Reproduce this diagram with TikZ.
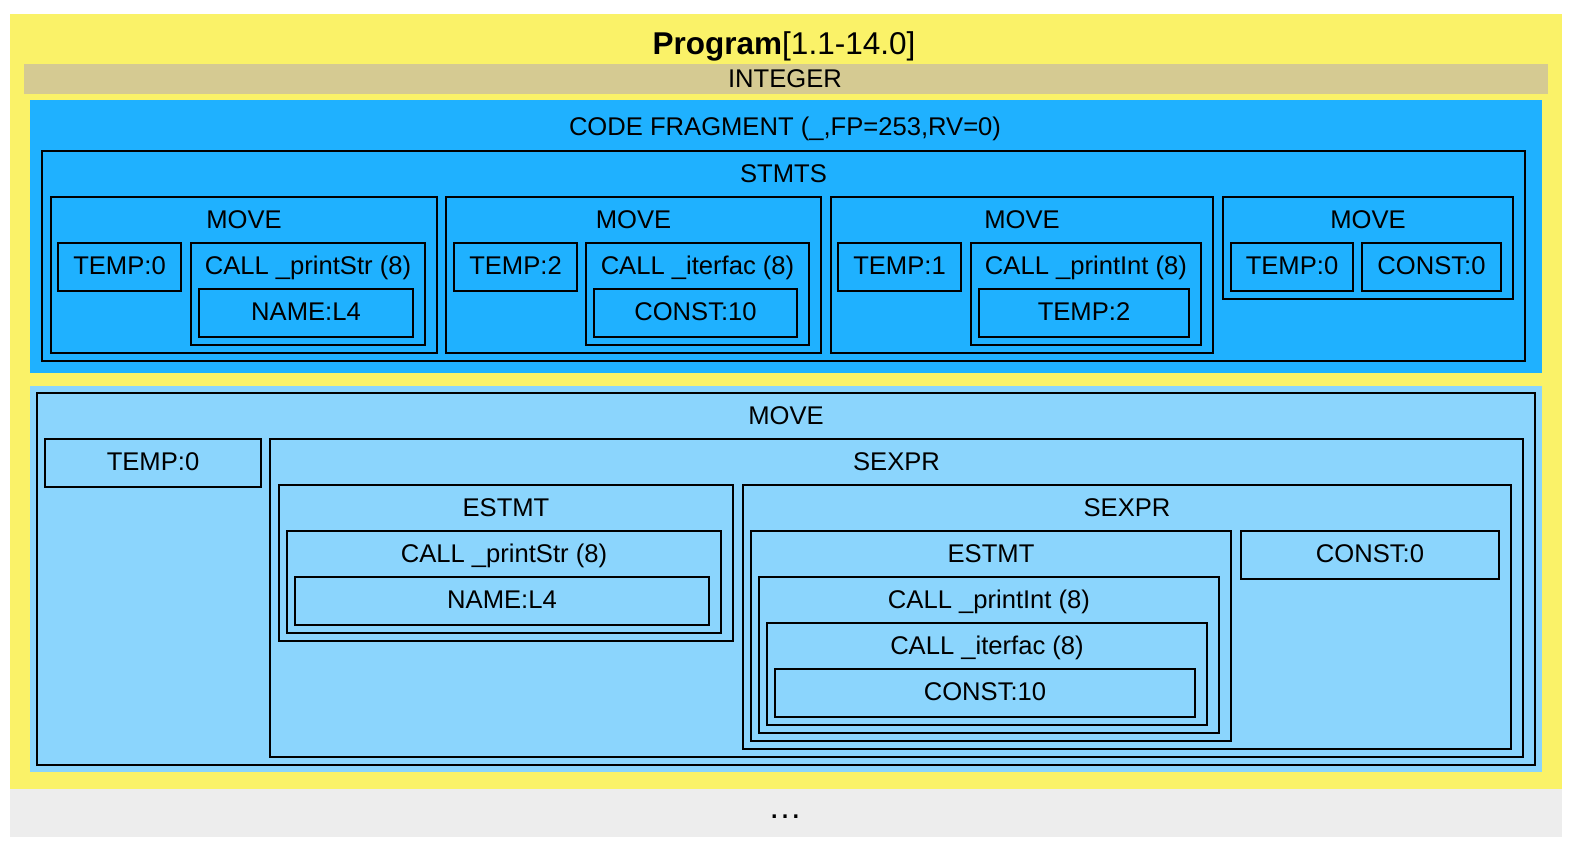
\documentclass[tikz,border=0pt]{standalone}
\usepackage{fontspec}
\setmainfont{Liberation Sans}
\usetikzlibrary{fit}

\definecolor{progyellow}{RGB}{250,242,104}
\definecolor{typetan}{RGB}{213,202,146}
\definecolor{fragblue}{RGB}{31,177,255}
\definecolor{exprblue}{RGB}{139,213,253}
\definecolor{moregray}{RGB}{237,237,237}

% one framed tree node: name, x1, y1, x2, y2, label
\newcommand{\irbox}[6]{%
  \node[irbox, fit={(#2,#3) (#4,#5)}] (#1) {};
  \node[irlabel] (#1-lbl) at ([yshift=-32.5pt]#1.north) {#6};}

\begin{document}
\begin{tikzpicture}[x=1pt,y=-1pt,
  irbox/.style={draw,line width=2.8pt,inner sep=0pt},
  irlabel/.style={anchor=base,inner sep=0pt,font=\fontsize{25.6}{30}\selectfont},
  bg/.style={inner sep=0pt,draw=none}]
\useasboundingbox[fill=white] (0,0) rectangle (1572,848);

% backgrounds
\node[bg,fill=progyellow,fit={(10,14) (1562,789)}] (prog) {};
\node[bg,fill=moregray,fit={(10,789) (1562,837)}] (more) {};
\node[irlabel,font=\fontsize{34}{36}\selectfont] (more-lbl) at (785,818) {…};
\node[irlabel,font=\fontsize{31.5}{36}\selectfont] (prog-lbl) at (784,55) {\textbf{Program}[1.1-14.0]};
\node[bg,fill=typetan,fit={(24,64) (1548,94)}] (type) {};
\node[irlabel] (type-lbl) at (785,88) {INTEGER};
\node[bg,fill=fragblue,fit={(30,100) (1542,373)}] (frag) {};
\node[irlabel] (frag-lbl) at (785,136) {CODE FRAGMENT (\_,FP=253,RV=0)};
\node[bg,fill=exprblue,fit={(30,386) (1542,772)}] (expr) {};

% code fragment
\irbox{stmts}{42}{151}{1525}{361}{STMTS}
\irbox{mova}{51}{197}{437}{353}{MOVE}
\irbox{mova-t}{58}{243}{181}{291}{TEMP:0}
\irbox{mova-c}{191}{243}{425}{345}{CALL \_printStr (8)}
\irbox{mova-n}{199}{289}{413}{337}{NAME:L4}
\irbox{movb}{446}{197}{821}{353}{MOVE}
\irbox{movb-t}{454}{243}{577}{291}{TEMP:2}
\irbox{movb-c}{586}{243}{809}{345}{CALL \_iterfac (8)}
\irbox{movb-k}{594}{289}{797}{337}{CONST:10}
\irbox{movc}{831}{197}{1213}{353}{MOVE}
\irbox{movc-t}{838}{243}{961}{291}{TEMP:1}
\irbox{movc-c}{971}{243}{1201}{345}{CALL \_printInt (8)}
\irbox{movc-a}{979}{289}{1189}{337}{TEMP:2}
\irbox{movd}{1223}{197}{1513}{299}{MOVE}
\irbox{movd-t}{1231}{243}{1353}{291}{TEMP:0}
\irbox{movd-k}{1362}{243}{1501}{291}{CONST:0}

% expression tree
\irbox{move}{37}{393}{1535}{765}{MOVE}
\irbox{move-t}{45}{439}{261}{487}{TEMP:0}
\irbox{sexa}{270}{439}{1523}{757}{SEXPR}
\irbox{esta}{279}{485}{733}{641}{ESTMT}
\irbox{esta-c}{287}{531}{721}{633}{CALL \_printStr (8)}
\irbox{esta-n}{295}{577}{709}{625}{NAME:L4}
\irbox{sexb}{743}{485}{1511}{749}{SEXPR}
\irbox{estb}{751}{531}{1231}{741}{ESTMT}
\irbox{estb-c}{759}{577}{1219}{733}{CALL \_printInt (8)}
\irbox{estb-i}{767}{623}{1207}{725}{CALL \_iterfac (8)}
\irbox{estb-k}{775}{669}{1195}{717}{CONST:10}
\irbox{sexb-k}{1241}{531}{1499}{579}{CONST:0}
\end{tikzpicture}
\end{document}
